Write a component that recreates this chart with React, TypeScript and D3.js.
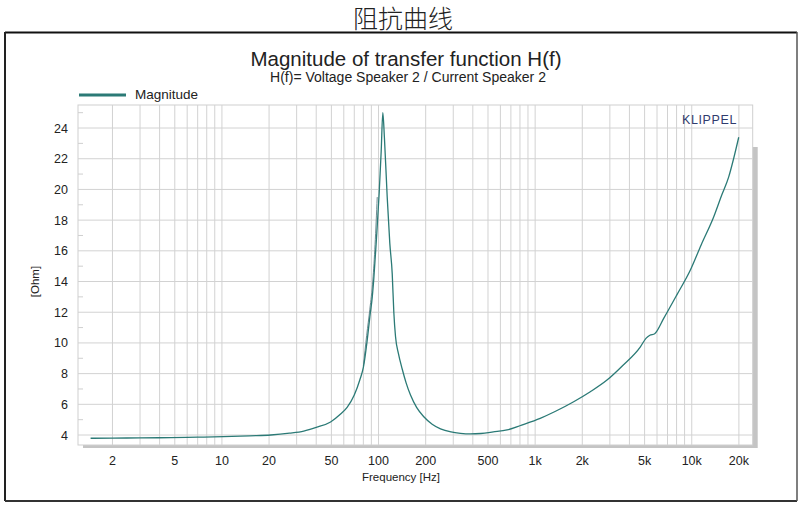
import React from 'react';
import * as d3 from 'd3';

// impedance magnitude
const freqs = [1.45, 2, 3, 4.7, 7, 10.2, 15, 20.5, 27, 33.3, 40, 49.4, 57, 63, 70, 76, 80, 84.7, 88, 91.2, 93.3, 97, 101, 104, 106.5, 109, 113.6, 118, 122.3, 125.2, 128.4, 134, 141.6, 150, 160, 175, 194.6, 220, 248.7, 290, 333.5, 386, 450, 540, 662, 820, 1077, 1350, 1762, 2250, 2876, 3600, 4700, 5100, 5400, 5800, 6620, 8000, 9800, 11500, 13800, 15500, 17200, 18500, 19950];
const magnitude = [3.79, 3.8, 3.81, 3.83, 3.86, 3.89, 3.95, 4.0, 4.12, 4.26, 4.5, 4.85, 5.35, 5.8, 6.6, 7.6, 8.4, 10.2, 11.7, 13.0, 14.2, 16.8, 19.8, 22.5, 25.0, 23.4, 19.5, 16.5, 14.5, 12.0, 10.4, 9.3, 8.3, 7.4, 6.6, 5.8, 5.19, 4.7, 4.4, 4.2, 4.11, 4.07, 4.1, 4.2, 4.33, 4.65, 5.09, 5.55, 6.17, 6.82, 7.58, 8.5, 9.75, 10.3, 10.5, 10.6, 11.6, 13.1, 14.75, 16.4, 18.2, 19.6, 20.8, 22.0, 23.4];

// second trace visible only on the rising flank
const freqsB = [80, 84, 88, 92, 95, 98.1];
const magnitudeB = [8.5, 10.5, 12.2, 14.1, 16.4, 19.5];

const xTicks = [2, 5, 10, 20, 50, 100, 200, 500, 1000, 2000, 5000, 10000, 20000];
const xTickLabels = ['2', '5', '10', '20', '50', '100', '200', '500', '1k', '2k', '5k', '10k', '20k'];
const yTicks = [4, 6, 8, 10, 12, 14, 16, 18, 20, 22, 24];

const W = 800;
const H = 507;
const plot = { left: 78, right: 752.7, top: 105, bottom: 445 };
const teal = '#2b7a76';
const sans = '"Liberation Sans", Arial, sans-serif';

export default function App() {
  const x = d3.scaleLog().domain([1.205, 24500]).range([plot.left, plot.right]);
  const y = d3.scaleLinear().domain([3.35, 25.5]).range([plot.bottom, plot.top]);

  const grid: number[] = [];
  [1, 10, 100, 1000, 10000].forEach(d => {
    for (let m = 1; m <= 9; m++) {
      const f = m * d;
      if (f > 1.205 && f < 24500) grid.push(f);
    }
  });
  const minorY = d3.range(5, 26, 2);

  const line = d3.line<number>()
    .x((_, i) => x(freqs[i]))
    .y(d => y(d))
    .curve(d3.curveMonotoneX);
  const lineB = d3.line<number>()
    .x((_, i) => x(freqsB[i]))
    .y(d => y(d))
    .curve(d3.curveMonotoneX);

  const pw = plot.right - plot.left;
  const ph = plot.bottom - plot.top;

  return (
    <svg width={W} height={H} style={{ position: 'absolute', left: 0, top: 0, background: '#fff' }}>
      {/* page title and frame */}
      <text x={403} y={28} textAnchor="middle" fontFamily='"Noto Sans CJK SC", sans-serif'
        fontWeight={300} fontSize={25} fill="#222">阻抗曲线</text>
      <line x1={5} x2={797} y1={32.5} y2={32.5} stroke="#111" strokeWidth={2} />
      <line x1={5} x2={5} y1={32} y2={501} stroke="#222" strokeWidth={2} />
      <line x1={5} x2={797} y1={501} y2={501} stroke="#333" strokeWidth={2} />
      <line x1={797} x2={797} y1={32} y2={501} stroke="#555" strokeWidth={1.5} />

      {/* chart titles */}
      <text x={406} y={66} textAnchor="middle" fontFamily={sans} fontSize={20.5} fill="#222">
        Magnitude of transfer function H(f)
      </text>
      <text x={408} y={82} textAnchor="middle" fontFamily={sans} fontSize={14} fill="#222">
        H(f)= Voltage Speaker 2 / Current Speaker 2
      </text>

      {/* legend */}
      <line x1={79} x2={126} y1={95} y2={95} stroke={teal} strokeWidth={3} />
      <text x={135} y={99} fontFamily={sans} fontSize={13.5} fill="#222">Magnitude</text>

      {/* plot area with drop shadow */}
      <rect x={plot.left + 5} y={plot.top + 42} width={pw} height={ph - 39} fill="#c4c4c4" />
      <rect x={plot.left} y={plot.top} width={pw} height={ph} fill="#fff" stroke="#cfcfcf" />

      {grid.map(f => (
        <line key={'gx' + f} x1={x(f)} x2={x(f)} y1={plot.top} y2={plot.bottom}
          stroke="#d2d2d2" strokeWidth={1} />
      ))}
      {yTicks.map(v => (
        <line key={'gy' + v} x1={plot.left} x2={plot.right} y1={y(v)} y2={y(v)}
          stroke="#d2d2d2" strokeWidth={1} />
      ))}
      {minorY.map(v => (
        <line key={'my' + v} x1={plot.left} x2={plot.left + 5} y1={y(v)} y2={y(v)}
          stroke="#cfcfcf" strokeWidth={1} />
      ))}

      {/* curves */}
      <path d={lineB(magnitudeB) || ''} fill="none" stroke="#6e8c92" strokeWidth={1} />
      <path d={line(magnitude) || ''} fill="none" stroke={teal} strokeWidth={1.3} />

      <text x={737} y={124} textAnchor="end" fontFamily={sans} fontSize={12.5} letterSpacing={0.6}
        fill="#2f3c6e">KLIPPEL</text>

      {/* axes labels */}
      {yTicks.map(v => (
        <text key={'ty' + v} x={68} y={y(v) + 4.5} textAnchor="end" fontFamily={sans}
          fontSize={12.5} fill="#222">{v}</text>
      ))}
      {xTicks.map((f, i) => (
        <text key={'tx' + f} x={x(f)} y={465} textAnchor="middle" fontFamily={sans}
          fontSize={12.5} fill="#222">{xTickLabels[i]}</text>
      ))}
      <text x={401} y={481} textAnchor="middle" fontFamily={sans} fontSize={11.5} fill="#222">
        Frequency [Hz]
      </text>
      <text transform={`translate(39,${y(14)}) rotate(-90)`} textAnchor="middle" fontFamily={sans}
        fontSize={11.5} fill="#222">[Ohm]</text>
    </svg>
  );
}
